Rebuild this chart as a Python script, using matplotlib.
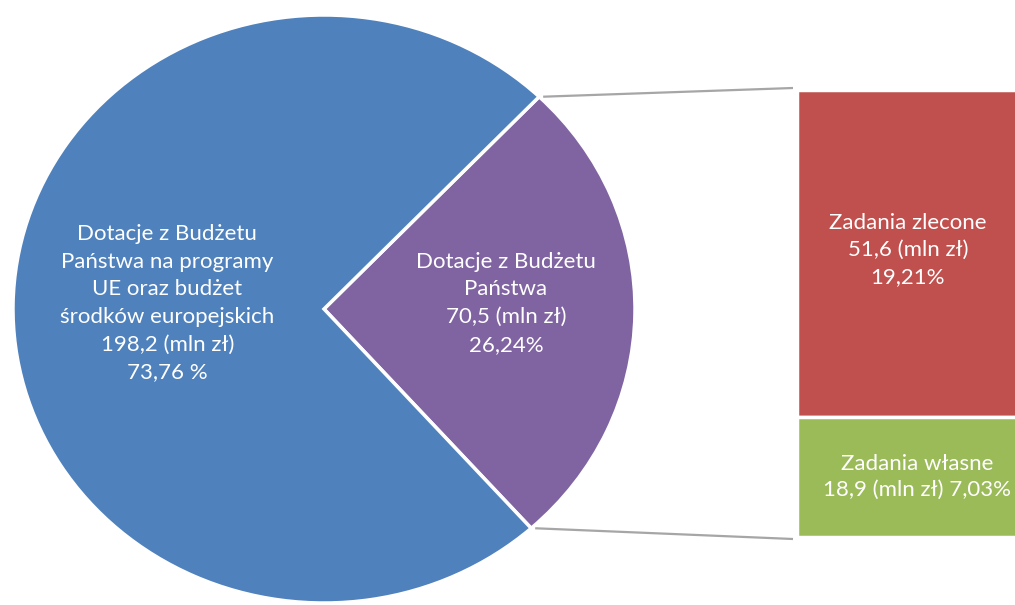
import matplotlib

matplotlib.use("Agg")

import matplotlib.pyplot as plt  # noqa: E402
import numpy as np  # noqa: E402

# ---------------------------------------------------------------------------
# Data
# ---------------------------------------------------------------------------

pie_values = [70.5, 198.2]  # Dotacje z Budżetu Państwa, programy UE
pie_labels = [
    "Dotacje z Budżetu\nPaństwa\n70,5 (mln zł)\n26,24%",
    "Dotacje z Budżetu\nPaństwa na programy\nUE oraz budżet\nśrodków europejskich\n198,2 (mln zł)\n73,76 %",
]
bar_values = [51.6, 18.9]  # Zadania zlecone, Zadania własne
bar_labels = [
    "Zadania zlecone\n51,6 (mln zł)\n19,21%",
    "Zadania własne\n18,9 (mln zł) 7,03%",
]

_PIE_COLORS = ["#8064A2", "#4F81BD"]
_BAR_COLORS = ["#C0504D", "#9BBB59"]
_FONT = ["Lato", "DejaVu Sans"]
_FS = 16
_ROT = -1.0  # small clockwise tilt of the split slice

W, H = 1015, 605


def _px(x0, y0, x1, y1):
    """Pixel box (top-left origin) -> figure fraction rect."""
    return [x0 / W, 1 - y1 / H, (x1 - x0) / W, (y1 - y0) / H]


fig = plt.figure(figsize=(W / 100, H / 100), dpi=100)
fig.patch.set_facecolor("white")

# ---------------------------------------------------------------------------
# Pie (slightly stretched horizontally, like the original)
# ---------------------------------------------------------------------------
pie_box = (13, 15, 635, 603)
ax_pie = fig.add_axes(_px(*pie_box))
half = 360 * pie_values[0] / sum(pie_values) / 2
wedges, _ = ax_pie.pie(
    pie_values,
    colors=_PIE_COLORS,
    startangle=-half + _ROT,
    counterclock=True,
    radius=1.0,
    wedgeprops=dict(edgecolor="white", linewidth=2.5),
)
ax_pie.set_aspect("auto")
ax_pie.set_xlim(-1, 1)
ax_pie.set_ylim(-1, 1)
ax_pie.axis("off")

ax_pie.text(0.585, 0.02, pie_labels[0], ha="center", va="center", color="white",
            fontsize=_FS, family=_FONT, linespacing=1.48)
ax_pie.text(-0.504, 0.02, pie_labels[1], ha="center", va="center", color="white",
            fontsize=_FS, family=_FONT, linespacing=1.48)

# ---------------------------------------------------------------------------
# Stacked bar of the purple slice (runs off the right edge)
# ---------------------------------------------------------------------------
bar_box = (797, 90, 1021, 537)
ax_bar = fig.add_axes(_px(*bar_box))
bottoms = np.concatenate([[0], np.cumsum(bar_values)[:-1]])
ax_bar.bar(0, bar_values, bottom=bottoms, width=1.0, color=_BAR_COLORS,
           edgecolor="white", linewidth=2.5)
ax_bar.set_xlim(-0.5, 0.5)
ax_bar.set_ylim(sum(bar_values), 0)
ax_bar.axis("off")

ax_bar.text(-0.005, bottoms[0] + bar_values[0] * 0.49, bar_labels[0], ha="center",
            va="center", color="white", fontsize=_FS, family=_FONT,
            linespacing=1.45)
ax_bar.text(0.035, bottoms[1] + bar_values[1] * 0.5, bar_labels[1], ha="center",
            va="center", color="white", fontsize=_FS, family=_FONT,
            linespacing=1.35)

# ---------------------------------------------------------------------------
# Connector lines (pie slice edges -> bar)
# ---------------------------------------------------------------------------
ax_all = fig.add_axes([0, 0, 1, 1], zorder=-1)
ax_all.set_xlim(0, W)
ax_all.set_ylim(H, 0)
ax_all.axis("off")
cx = (pie_box[0] + pie_box[2]) / 2
cy = (pie_box[1] + pie_box[3]) / 2
rx = (pie_box[2] - pie_box[0]) / 2
ry = (pie_box[3] - pie_box[1]) / 2
for ang, by in [(half + _ROT, bar_box[1] - 2), (-half + _ROT, bar_box[3] + 2)]:
    t = np.deg2rad(ang)
    ax_all.plot([cx + rx * np.cos(t) + 4, bar_box[0] - 4],
                [cy - ry * np.sin(t), by],
                color="#A6A6A6", linewidth=1.6, solid_capstyle="butt")

fig.savefig("out.png", dpi=100, facecolor="white")
plt.close(fig)
